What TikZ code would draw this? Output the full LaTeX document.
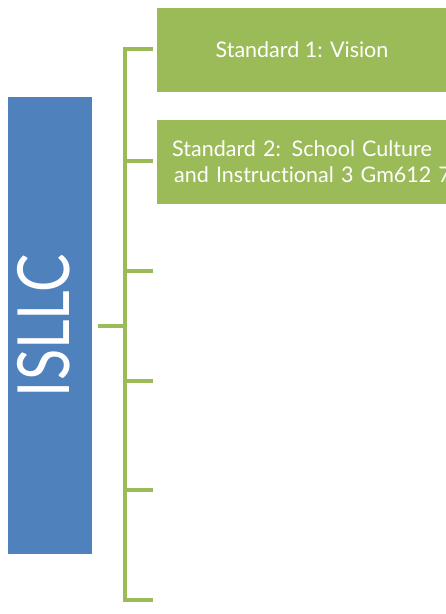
\documentclass[tikz,border=0pt]{standalone}
\usepackage{fontspec}
\setmainfont{Lato}[Ligatures=NoCommon]
\definecolor{islcblue}{HTML}{4F81BD}
\definecolor{stdgreen}{HTML}{9BBB59}

\begin{document}
\begin{tikzpicture}[x=1pt,y=-1pt,
    stdbox/.style={fill=stdgreen, text=white, minimum width=290pt, minimum height=84pt,
      inner sep=0pt, font=\fontsize{21.5}{26}\selectfont},
    conn/.style={draw=stdgreen, line width=4pt}]
        \useasboundingbox (0,0) rectangle (446,614);
        \clip (0,0) rectangle (446,614);
        \node[fill=islcblue, minimum width=84pt, minimum height=457pt, inner sep=0pt] (islc) at (50,325.5) {};
        \node[rotate=90, text=white, font=\fontsize{72}{72}\selectfont] (islctext) at ([xshift=-6pt]islc.center) {\scalebox{0.8}[1]{ISLLC}};
        \node[stdbox] (std1) at (302,50) {Standard 1: Vision};
        \node[stdbox, anchor=west, text width=400pt, align=left, inner xsep=15pt] (std2) at (157,162) {Standard 2: School Culture\\\hspace{2pt}and Instructional 3 Gm612 7};
        \foreach \y [count=\i] in {49,161,271,381,490,600}
            \coordinate (b\i) at (153,\y);
        \coordinate (spine) at (125,325.5);
        \draw[conn] (b1) -| (spine) |- (b6);
        \foreach \i in {2,...,5}
            \draw[conn] (b\i) -- (b\i -| spine);
        \draw[conn] ([xshift=6pt]islc.east) -- (spine);
    \end{tikzpicture}
\end{document}
